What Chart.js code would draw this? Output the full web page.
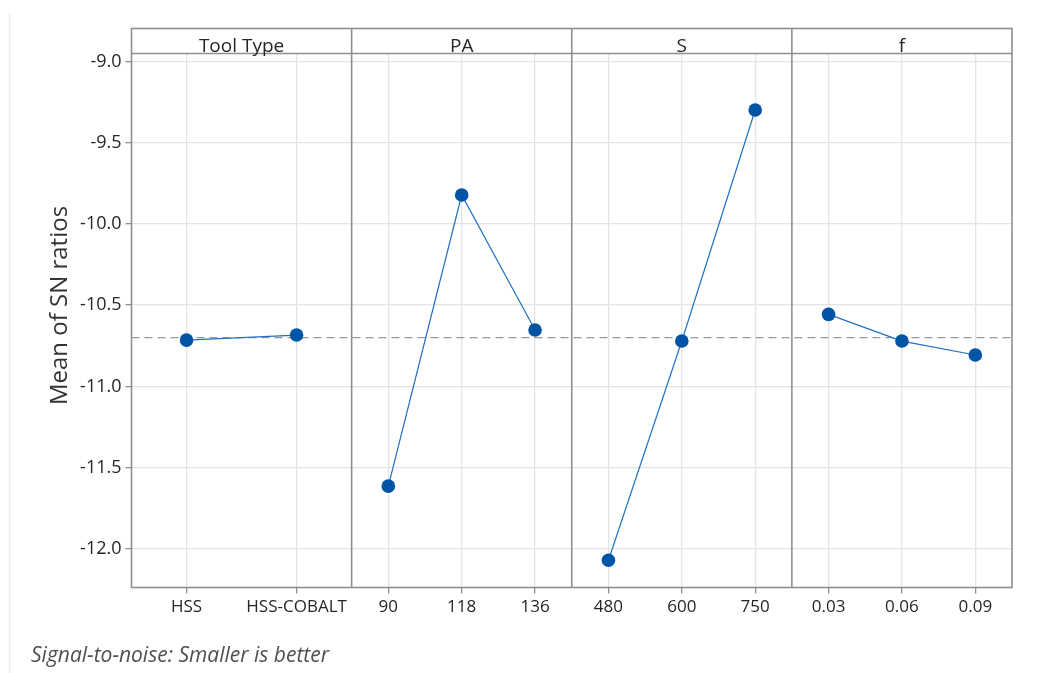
<!DOCTYPE html>
<html>
<head>
<meta charset="utf-8">
<script src="https://cdn.jsdelivr.net/npm/chart.js@4"></script>
<style>
  html,body{margin:0;padding:0;background:#fff;}
  #wrap{position:relative;width:1046px;height:673px;}
</style>
</head>
<body>
<div id="wrap"><canvas id="c" width="1046" height="673"></canvas></div>
<script>
// ---- Data ----
const factors = ["Tool Type", "PA", "S", "f"];
const toolTypeLevels = ["HSS", "HSS-COBALT"];
const toolTypeMeans = [-10.715, -10.684];
const paLevels = ["90", "118", "136"];
const paMeans = [-11.614, -9.822, -10.653];
const sLevels = ["480", "600", "750"];
const sMeans = [-12.070, -10.721, -9.299];
const fLevels = ["0.03", "0.06", "0.09"];
const fMeans = [-10.557, -10.721, -10.807];
const overallMean = -10.70;
const yTickValues = [-12.0, -11.5, -11.0, -10.5, -10.0, -9.5, -9.0];
const yAxisTitle = "Mean of SN ratios";
const footnote = "Signal-to-noise: Smaller is better";

const levelSets = [toolTypeLevels, paLevels, sLevels, fLevels];
const meanSets = [toolTypeMeans, paMeans, sMeans, fMeans];

const tickPos = [];   // {v, label, boundary}
const datasets = [];
const pointColor = "#0054A6";
const lineColor = "#1F6FC5";
levelSets.forEach((levels, p) => {
  const n = levels.length;
  const pts = levels.map((lab, i) => {
    const x = p + (i + 0.5) / n;
    tickPos.push({v: x, label: lab, boundary: false});
    return {x: x, y: meanSets[p][i]};
  });
  datasets.push({
    label: factors[p],
    data: pts,
    borderColor: lineColor,
    borderWidth: 1.2,
    pointRadius: 6.8,
    pointBackgroundColor: pointColor,
    pointBorderColor: pointColor,
    pointBorderWidth: 0,
    showLine: true,
    tension: 0,
    order: 1
  });
  if (p > 0) tickPos.push({v: p, label: "", boundary: true});
});
tickPos.sort((a, b) => a.v - b.v);

datasets.push({
  label: "mean",
  data: [{x: 0, y: overallMean}, {x: levelSets.length, y: overallMean}],
  borderColor: "#9a9a9a",
  borderWidth: 1.3,
  borderDash: [8, 5],
  pointRadius: 0,
  showLine: true,
  order: 2
});

const FONT = "'Open Sans', 'Noto Sans', sans-serif";
const TXT = "#262626";
const isBoundary = v => tickPos.some(t => t.boundary && Math.abs(t.v - v) < 1e-9);
const labelAt = v => { const t = tickPos.find(t => Math.abs(t.v - v) < 1e-9); return t ? t.label : ""; };

const framePlugin = {
  id: "frame",
  afterDraw(chart) {
    const ctx = chart.ctx;
    const a = chart.chartArea;
    const xs = chart.scales.x;
    const headerTop = 28.5;
    ctx.save();
    // faint page line at left
    ctx.strokeStyle = "#ebebeb";
    ctx.lineWidth = 1.5;
    ctx.beginPath(); ctx.moveTo(9.5, 14); ctx.lineTo(9.5, 673); ctx.stroke();
    // frame
    ctx.strokeStyle = "#8f8f8f";
    ctx.lineWidth = 1.6;
    ctx.strokeRect(a.left, headerTop, a.right - a.left, a.bottom - headerTop);
    ctx.beginPath(); ctx.moveTo(a.left, a.top); ctx.lineTo(a.right, a.top); ctx.stroke();
    for (let p = 1; p < factors.length; p++) {
      const x = xs.getPixelForValue(p);
      ctx.beginPath(); ctx.moveTo(x, headerTop); ctx.lineTo(x, a.bottom); ctx.stroke();
    }
    // header labels
    ctx.fillStyle = TXT;
    ctx.font = "19px " + FONT;
    ctx.textAlign = "center";
    ctx.textBaseline = "alphabetic";
    factors.forEach((f, p) => {
      const x0 = xs.getPixelForValue(p), x1 = xs.getPixelForValue(p + 1);
      ctx.fillText(f, (x0 + x1) / 2, 51.5);
    });
    // y axis title
    ctx.save();
    ctx.translate(60, 305.5);
    ctx.rotate(-Math.PI / 2);
    ctx.font = "24px " + FONT;
    ctx.fillStyle = "#333";
    ctx.textAlign = "center";
    ctx.textBaseline = "middle";
    ctx.fillText(yAxisTitle, 0, 0);
    ctx.restore();
    // footnote
    ctx.font = "italic 21px " + FONT;
    ctx.fillStyle = "#505050";
    ctx.textAlign = "left";
    ctx.textBaseline = "alphabetic";
    ctx.fillText(footnote, 31, 662);
    ctx.restore();
  }
};

new Chart(document.getElementById("c"), {
  type: "scatter",
  data: {datasets},
  options: {
    responsive: false,
    animation: false,
    events: [],
    layout: {padding: {left: 0, right: 34, top: 53.5, bottom: 0}},
    plugins: {legend: {display: false}, tooltip: {enabled: false}},
    scales: {
      x: {
        type: "linear",
        min: 0,
        max: levelSets.length,
        afterBuildTicks: s => { s.ticks = tickPos.map(t => ({value: t.v})); },
        afterFit: s => { s.height = 673 - 587.5; },
        ticks: {
          autoSkip: false,
          maxRotation: 0,
          padding: 3,
          color: TXT,
          font: {family: FONT, size: 17},
          callback: v => labelAt(v)
        },
        grid: {
          color: c => (c.tick && isBoundary(c.tick.value)) ? "rgba(0,0,0,0)" : "#e4e4e4",
          lineWidth: 1.3,
          tickLength: 6,
          tickColor: c => (c.tick && isBoundary(c.tick.value)) ? "rgba(0,0,0,0)" : "#8f8f8f",
          drawOnChartArea: true
        },
        border: {display: false}
      },
      y: {
        type: "linear",
        min: -12.238,
        max: -8.951,
        afterBuildTicks: s => { s.ticks = yTickValues.map(v => ({value: v})); },
        afterFit: s => { s.width = 131.5; },
        ticks: {
          color: TXT,
          padding: 4,
          font: {family: FONT, size: 18},
          callback: v => v.toFixed(1)
        },
        grid: {
          color: "#e4e4e4",
          lineWidth: 1.3,
          tickLength: 6,
          tickColor: "#8f8f8f"
        },
        border: {display: false}
      }
    }
  },
  plugins: [framePlugin]
});
</script>
</body>
</html>
